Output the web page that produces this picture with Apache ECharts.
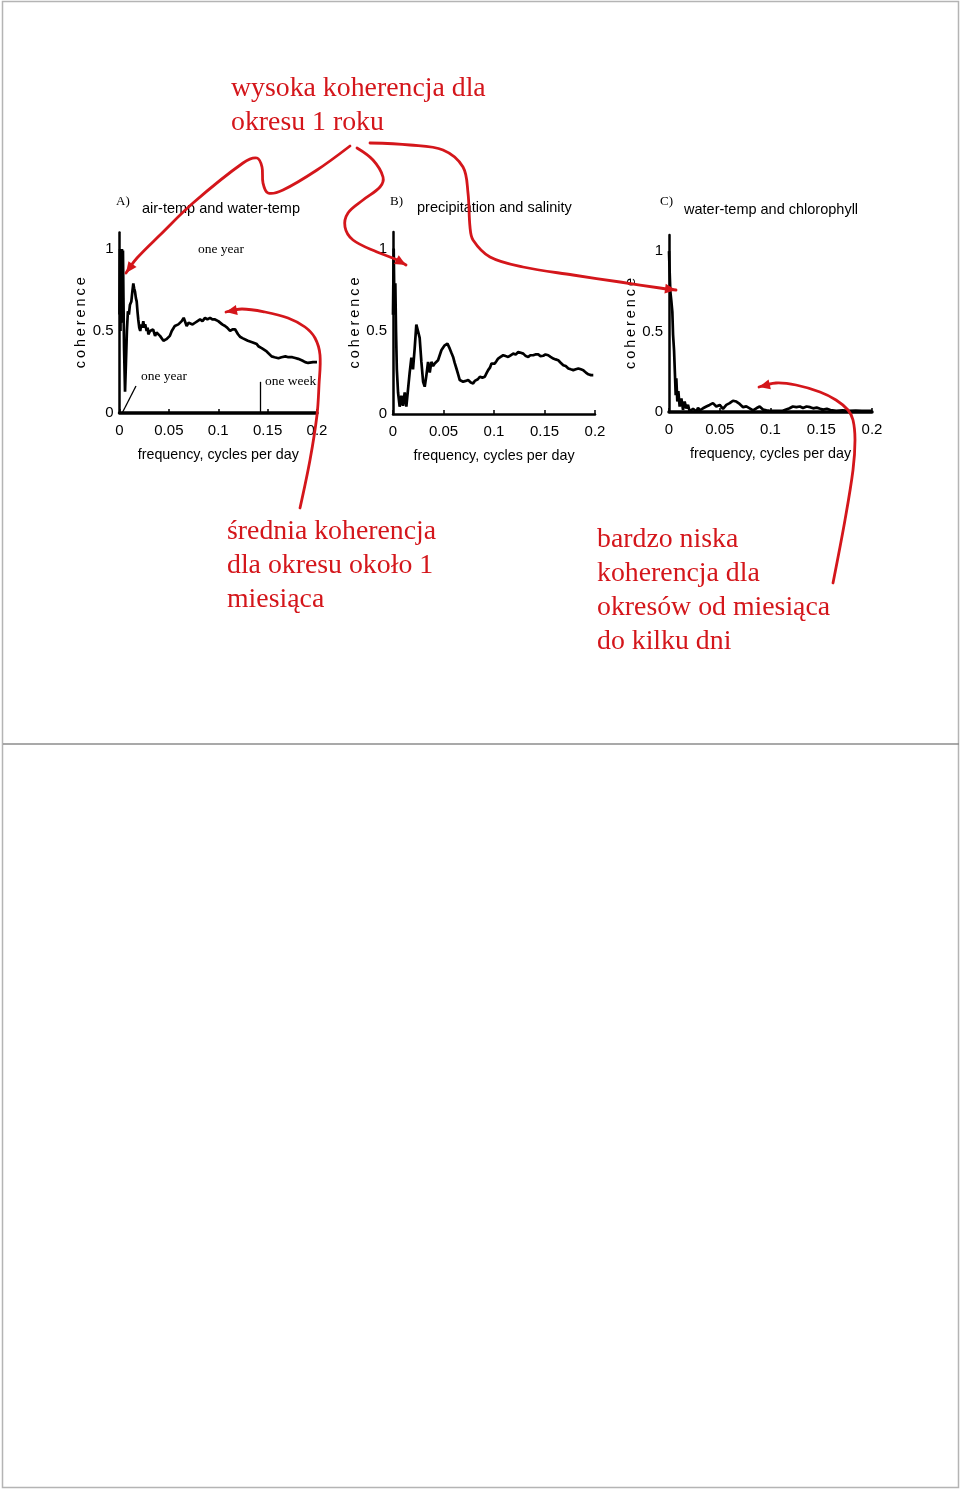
<!DOCTYPE html>
<html>
<head>
<meta charset="utf-8">
<script src="https://cdn.jsdelivr.net/npm/echarts@6/dist/echarts.min.js"></script>
<style>
html,body{margin:0;padding:0;background:#fff;}
#chart{width:960px;height:1489px;}
</style>
</head>
<body>
<div id="chart"></div>
<script>
// ---- data ----
var xTicks = [0, 0.05, 0.1, 0.15, 0.2];
var yTicks = [0, 0.5, 1];
var panelLetters = ['A)', 'B)', 'C)'];
var panelTitles = ['air-temp and water-temp', 'precipitation and salinity', 'water-temp and chlorophyll'];
var yName = 'coherence';
var xName = 'frequency, cycles per day';

var freqA = [0,0.0005,0.001,0.0015,0.002,0.0025,0.003,0.0035,0.004,0.0046,0.0056,0.0065,0.0075,0.0085,0.0095,0.0106,0.012,0.013,0.014,0.0148,0.0157,0.0166,0.0174,0.0182,0.019,0.02,0.021,0.022,0.023,0.0241,0.025,0.026,0.0275,0.0285,0.0292,0.031,0.0326,0.034,0.036,0.0375,0.0393,0.041,0.0427,0.0445,0.046,0.0475,0.0494,0.051,0.0529,0.0545,0.056,0.058,0.0596,0.061,0.063,0.065,0.0663,0.068,0.07,0.0714,0.074,0.0765,0.079,0.0816,0.084,0.0866,0.089,0.0917,0.094,0.0967,0.0984,0.1,0.1018,0.104,0.1069,0.109,0.112,0.1145,0.117,0.12,0.122,0.125,0.127,0.13,0.132,0.135,0.137,0.139,0.141,0.144,0.146,0.149,0.151,0.154,0.157,0.161,0.164,0.168,0.171,0.175,0.178,0.181,0.185,0.188,0.191,0.193,0.196,0.2];
var cohA = [0.6,1.0,0.5,1.0,0.75,1.0,0.55,0.99,0.7,0.4,0.13,0.3,0.5,0.62,0.6,0.66,0.68,0.74,0.79,0.76,0.74,0.7,0.68,0.62,0.57,0.52,0.5,0.54,0.52,0.56,0.52,0.54,0.5,0.52,0.48,0.5,0.49,0.51,0.47,0.49,0.5,0.47,0.46,0.44,0.43,0.45,0.44,0.47,0.5,0.51,0.53,0.52,0.54,0.55,0.56,0.58,0.57,0.53,0.55,0.55,0.54,0.55,0.56,0.57,0.56,0.58,0.57,0.58,0.57,0.57,0.58,0.56,0.55,0.54,0.53,0.52,0.5,0.51,0.51,0.48,0.465,0.455,0.445,0.44,0.435,0.43,0.435,0.42,0.405,0.395,0.385,0.375,0.365,0.345,0.34,0.334,0.34,0.345,0.34,0.34,0.335,0.33,0.32,0.31,0.305,0.303,0.31,0.31];

var freqB = [0,0.0007,0.0015,0.0023,0.003,0.0038,0.005,0.0066,0.0083,0.0099,0.0116,0.0132,0.0149,0.0165,0.0182,0.0198,0.0215,0.0231,0.0248,0.0264,0.0281,0.0298,0.0314,0.0331,0.0347,0.0364,0.038,0.0397,0.0413,0.043,0.0446,0.046,0.0479,0.0495,0.0512,0.0539,0.0562,0.0578,0.0595,0.061,0.0628,0.0645,0.0661,0.068,0.0694,0.072,0.0744,0.077,0.0793,0.081,0.0826,0.084,0.086,0.0885,0.0909,0.0925,0.0942,0.096,0.0975,0.099,0.1008,0.1025,0.1041,0.1065,0.1091,0.1115,0.114,0.1165,0.119,0.1215,0.124,0.1265,0.129,0.1315,0.1339,0.136,0.1388,0.141,0.1438,0.146,0.1488,0.151,0.1537,0.156,0.1587,0.161,0.1636,0.166,0.1686,0.171,0.1736,0.176,0.1785,0.181,0.1835,0.186,0.1884,0.191,0.1934,0.196,0.1983];
var cohB = [0.6,1.0,0.6,0.79,0.5,0.27,0.13,0.044,0.11,0.05,0.13,0.044,0.15,0.25,0.34,0.27,0.4,0.54,0.5,0.46,0.315,0.195,0.165,0.235,0.315,0.25,0.315,0.29,0.305,0.3,0.325,0.33,0.385,0.4,0.415,0.425,0.395,0.37,0.345,0.31,0.275,0.24,0.205,0.2,0.195,0.2,0.205,0.19,0.185,0.2,0.195,0.21,0.225,0.22,0.225,0.245,0.265,0.28,0.305,0.3,0.305,0.32,0.335,0.345,0.355,0.35,0.345,0.355,0.365,0.36,0.375,0.37,0.365,0.35,0.345,0.355,0.355,0.36,0.36,0.35,0.352,0.36,0.355,0.345,0.335,0.33,0.325,0.31,0.295,0.29,0.275,0.27,0.265,0.27,0.275,0.27,0.265,0.25,0.24,0.235,0.235];

var freqC = [0,0.0005,0.0013,0.0023,0.0033,0.004,0.005,0.006,0.0066,0.0072,0.0082,0.0092,0.0105,0.0122,0.0138,0.0154,0.0171,0.0187,0.0204,0.0237,0.027,0.0286,0.0302,0.0335,0.0368,0.04,0.0433,0.0466,0.05,0.0532,0.0565,0.0598,0.063,0.0663,0.0696,0.073,0.0762,0.0795,0.0828,0.086,0.0893,0.0926,0.096,0.0992,0.106,0.112,0.1188,0.122,0.1255,0.129,0.132,0.1355,0.139,0.142,0.1455,0.149,0.152,0.1555,0.159,0.1648,0.171,0.1773,0.184,0.19,0.2];
var cohC = [1.0,0.9,0.75,0.69,0.62,0.48,0.38,0.21,0.105,0.21,0.065,0.13,0.034,0.085,0.013,0.065,0.023,0.044,0.003,0.02,0.003,0.027,0.01,0.023,0.034,0.044,0.055,0.034,0.044,0.02,0.044,0.055,0.07,0.065,0.05,0.03,0.035,0.023,0.01,0.023,0.034,0.015,0.01,0.007,0.007,0.007,0.023,0.034,0.03,0.034,0.025,0.034,0.03,0.023,0.027,0.02,0.015,0.02,0.012,0.007,0.01,0.007,0.009,0.007,0.007];

// annotation periods (cycles per day)
var oneYearFreq = 1 / 365;
var oneWeekFreq = 1 / 7;

var noteTop = ['wysoka koherencja dla', 'okresu 1 roku'];
var noteMid = ['średnia koherencja', 'dla okresu około 1', 'miesiąca'];
var noteRight = ['bardzo niska', 'koherencja dla', 'okresów od miesiąca', 'do kilku dni'];

// ---- build chart ----
var SANS = "'Liberation Sans',Arial,Helvetica,sans-serif";
var SERIF = "'Liberation Serif','Times New Roman',serif";
var RED = '#d4161b';

function zip(xs, ys) { return xs.map(function (x, i) { return [x, ys[i]]; }); }

var grids = [
  {left: 119.5, top: 232.5, width: 197.5, height: 180.5},
  {left: 393, top: 232, width: 202, height: 182},
  {left: 669, top: 235, width: 203, height: 177}
];
var xLineW = [3.5, 2.5, 3.5];

var xAxes = [], yAxes = [], series = [];
var spaced = yName.split('').join('\u2009');
grids.forEach(function (g, i) {
  xAxes.push({
    type: 'value', gridIndex: i, min: 0, max: 0.2, interval: 0.05,
    name: xName, nameLocation: 'middle', nameGap: 35,
    nameTextStyle: {fontFamily: SANS, fontSize: 14.3, color: '#000'},
    axisLine: {show: true, onZero: false, lineStyle: {color: '#000', width: xLineW[i]}},
    axisTick: {show: true, inside: true, length: 4, lineStyle: {color: '#000', width: 1.5}, customValues: xTicks},
    axisLabel: {fontFamily: SANS, fontSize: 15, color: '#000', margin: 10, customValues: xTicks,
      formatter: function (v) { return String(+(+v).toFixed(2)); }},
    splitLine: {show: false}
  });
  yAxes.push({
    type: 'value', gridIndex: i, min: 0, max: 1.1, interval: 0.5,
    name: spaced, nameLocation: 'middle', nameRotate: 90, nameGap: 25,
    nameTextStyle: {fontFamily: SANS, fontSize: 14.5, color: '#000'},
    axisLine: {show: true, onZero: false, lineStyle: {color: '#000', width: 2.5}},
    axisTick: {show: false},
    axisLabel: {fontFamily: SANS, fontSize: 15, color: '#000', margin: 6, customValues: yTicks,
      formatter: function (v) { return String(+(+v).toFixed(2)); }},
    splitLine: {show: false}
  });
});

var dataSets = [zip(freqA, cohA), zip(freqB, cohB), zip(freqC, cohC)];
dataSets.forEach(function (d, i) {
  var s = {
    type: 'line', xAxisIndex: i, yAxisIndex: i, data: d, symbol: 'none',
    lineStyle: {color: '#000', width: 2.7}, animation: false, silent: true, z: 3
  };
  if (i === 0) {
    s.markLine = {
      silent: true, symbol: ['none', 'arrow'], symbolSize: [0, 9], animation: false,
      lineStyle: {color: '#000', width: 1.3, type: 'solid'}, label: {show: false},
      data: [
        [{coord: [0.0167, 0.165]}, {coord: [oneYearFreq, 0.0]}],
        [{coord: [oneWeekFreq, 0.19]}, {coord: [oneWeekFreq, 0.0]}]
      ]
    };
  }
  series.push(s);
});

var titles = [];
var letterX = [116, 390, 660], titleX = [142, 417, 684], titleY = [201, 200, 202];
panelTitles.forEach(function (t, i) {
  titles.push({text: panelLetters[i], left: letterX[i], top: 195, padding: 0,
    textStyle: {fontFamily: SERIF, fontSize: 13, fontWeight: 'normal', color: '#000'}});
  titles.push({text: t, left: titleX[i], top: titleY[i], padding: 0,
    textStyle: {fontFamily: SANS, fontSize: 14.5, fontWeight: 'normal', color: '#000'}});
});

var graphics = [];
// page frame
graphics.push({type: 'rect', shape: {x: 2.5, y: 1.5, width: 956, height: 1486}, style: {fill: 'none', stroke: '#b4b4b4', lineWidth: 1.5}, silent: true, z: 0});
graphics.push({type: 'line', shape: {x1: 3, y1: 744, x2: 959, y2: 744}, style: {stroke: '#8c8c8c', lineWidth: 1.5}, silent: true, z: 0});

// small black annotation texts
function smallText(txt, x, y) {
  graphics.push({type: 'text', x: x, y: y, style: {text: txt, font: "13.5px " + SERIF, fill: '#000', verticalAlign: 'middle'}, silent: true, z: 5});
}
smallText('one year', 198, 249);
smallText('one year', 141, 376);
smallText('one week', 265, 381);

// red notes
function redLines(lines, x, y0, dy) {
  lines.forEach(function (t, k) {
    graphics.push({type: 'text', x: x, y: y0 + k * dy, style: {text: t, font: "27.8px " + SERIF, fill: RED, verticalAlign: 'middle'}, silent: true, z: 10});
  });
}
redLines(noteTop, 231, 89, 34);
redLines(noteMid, 227, 532, 34);
redLines(noteRight, 597, 540, 34);

// red hand-drawn arrows
function redArrow(pts, tip) {
  graphics.push({type: 'polyline', shape: {points: pts.concat([tip]), smooth: 0.35}, style: {stroke: RED, lineWidth: 2.8, fill: null, lineCap: 'round'}, silent: true, z: 10});
  var last = pts[pts.length - 1];
  var dx = tip[0] - last[0], dy = tip[1] - last[1];
  var len = Math.sqrt(dx * dx + dy * dy) || 1;
  var ux = dx / len, uy = dy / len;
  var L = 11, W = 5;
  var bx = tip[0] - ux * L, by = tip[1] - uy * L;
  graphics.push({type: 'polygon', shape: {points: [tip, [bx - uy * W, by + ux * W], [bx + uy * W, by - ux * W]]}, style: {fill: RED}, silent: true, z: 10});
}
redArrow([[350,146],[317,170],[283,190],[268,193],[263,183],[262,167],[257,158],[243,163],[193,203],[160,235],[137,258]], [126,273]);
redArrow([[357,148],[373,160],[383,177],[380,187],[363,200],[348,213],[345,227],[353,240],[377,252],[395,259]], [406,265]);
redArrow([[370,143],[410,145],[443,150],[463,167],[468,193],[470,227],[473,240],[490,257],[523,267],[573,275],[620,282],[660,288]], [676,290]);
redArrow([[300,508],[310,460],[317,415],[319,385],[320,355],[315,338],[305,327],[288,318],[265,312],[242,309]], [226,312]);
redArrow([[833,583],[845,520],[853,470],[855,440],[853,420],[848,410],[836,400],[820,392],[796,385],[776,383]], [759,387]);

var chart = echarts.init(document.getElementById('chart'), null, {renderer: 'canvas'});
chart.setOption({
  animation: false,
  backgroundColor: '#fff',
  title: titles,
  grid: grids,
  xAxis: xAxes,
  yAxis: yAxes,
  series: series,
  graphic: graphics
});
</script>
</body>
</html>
